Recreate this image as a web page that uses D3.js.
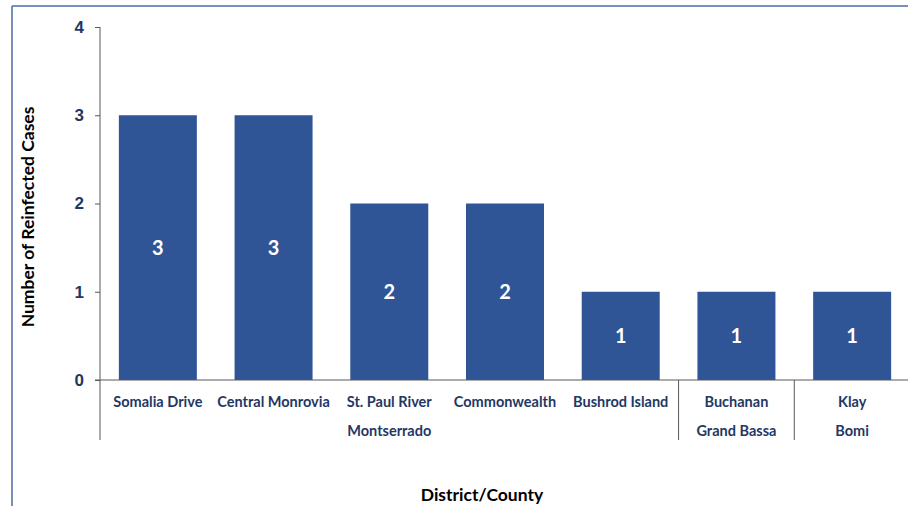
<!DOCTYPE html>
<html>
<head>
<meta charset="utf-8">
<script src="https://cdn.jsdelivr.net/npm/d3@7"></script>
<style>
  body { margin: 0; background: #fff; }
  svg { display: block; font-family: Lato, "Open Sans", sans-serif; }
</style>
</head>
<body>
<div id="chart"></div>
<script>
// data
var districts = ["Somalia Drive", "Central Monrovia", "St. Paul River", "Commonwealth", "Bushrod Island", "Buchanan", "Klay"];
var cases = [3, 3, 2, 2, 1, 1, 1];
var counties = ["Montserrado", "Grand Bassa", "Bomi"];
var countySpans = [5, 1, 1];
var yTicks = [0, 1, 2, 3, 4];

var width = 908, height = 506;
var navy = "#1F3864";
var barColor = "#2F5597";
var axisColor = "#595959";

var svg = d3.select("#chart").append("svg")
    .attr("width", width).attr("height", height);

// outer frame (top and left edges only visible)
svg.append("line").attr("x1", 12).attr("x2", width).attr("y1", 6).attr("y2", 6)
    .attr("stroke", "#4A6AA5").attr("stroke-width", 1.5);
svg.append("line").attr("x1", 12).attr("x2", 12).attr("y1", 6).attr("y2", height)
    .attr("stroke", "#4A6AA5").attr("stroke-width", 1.5);

var x0 = 100, x1 = 910, yTop = 27, yBase = 380, yGroupEnd = 440;

var xScale = d3.scaleBand().domain(districts).range([x0, x1])
    .paddingInner(0.326).paddingOuter(0.163);
var yScale = d3.scaleLinear().domain([0, 4]).range([yBase, yTop]);

// y axis
var yAxis = d3.axisLeft(yScale).tickValues(yTicks).tickFormat(d3.format("d"))
    .tickSize(5).tickPadding(11);
var gy = svg.append("g").attr("transform", "translate(" + x0 + ",0)").call(yAxis);
gy.select(".domain").remove();
gy.selectAll(".tick line").attr("stroke", axisColor);
gy.selectAll(".tick text")
    .attr("fill", navy).style("font-size", "17px").style("font-weight", "bold");

svg.append("line").attr("x1", x0).attr("x2", x0).attr("y1", yTop).attr("y2", yGroupEnd)
    .attr("stroke", axisColor).attr("stroke-width", 1);

// bars
svg.selectAll("rect.bar").data(cases).enter().append("rect")
    .attr("class", "bar")
    .attr("x", function(d, i){ return xScale(districts[i]); })
    .attr("width", xScale.bandwidth())
    .attr("y", function(d){ return yScale(d); })
    .attr("height", function(d){ return yBase - yScale(d); })
    .attr("fill", barColor);

// value labels in middle of bars
svg.selectAll("text.val").data(cases).enter().append("text")
    .attr("class", "val")
    .attr("x", function(d, i){ return xScale(districts[i]) + xScale.bandwidth() / 2; })
    .attr("y", function(d){ return (yScale(d) + yBase) / 2; })
    .attr("dy", "0.36em")
    .attr("text-anchor", "middle")
    .attr("fill", "#fff")
    .style("font-size", "20px").style("font-weight", "bold")
    .text(function(d){ return d; });

// x axis baseline
svg.append("line").attr("x1", x0 - 5).attr("x2", width).attr("y1", yBase).attr("y2", yBase)
    .attr("stroke", axisColor).attr("stroke-width", 1);

// district labels
svg.selectAll("text.cat").data(districts).enter().append("text")
    .attr("class", "cat")
    .attr("x", function(d){ return xScale(d) + xScale.bandwidth() / 2; })
    .attr("y", 402)
    .attr("dy", "0.35em")
    .attr("text-anchor", "middle")
    .attr("fill", navy)
    .style("font-size", "14.5px").style("font-weight", "bold")
    .text(function(d){ return d; });

// county groups
var step = xScale.step();
var start = 0;
counties.forEach(function(c, i){
    var left = x0 + start * step;
    var right = x0 + (start + countySpans[i]) * step;
    svg.append("text")
        .attr("x", (left + right) / 2).attr("y", 431).attr("dy", "0.35em")
        .attr("text-anchor", "middle").attr("fill", navy)
        .style("font-size", "14.5px").style("font-weight", "bold")
        .text(c);
    if (i > 0) {
        svg.append("line").attr("x1", left).attr("x2", left)
            .attr("y1", yBase).attr("y2", yGroupEnd)
            .attr("stroke", axisColor).attr("stroke-width", 1);
    }
    start += countySpans[i];
});

// axis titles
svg.append("text")
    .attr("transform", "translate(34,217) rotate(-90)")
    .attr("text-anchor", "middle").attr("fill", "#000")
    .style("font-size", "17.5px").style("font-weight", "bold")
    .text("Number of Reinfected Cases");

svg.append("text")
    .attr("x", 482).attr("y", 495).attr("dy", "0.35em")
    .attr("text-anchor", "middle").attr("fill", "#000")
    .style("font-size", "17.5px").style("font-weight", "bold")
    .text("District/County");
</script>
</body>
</html>
